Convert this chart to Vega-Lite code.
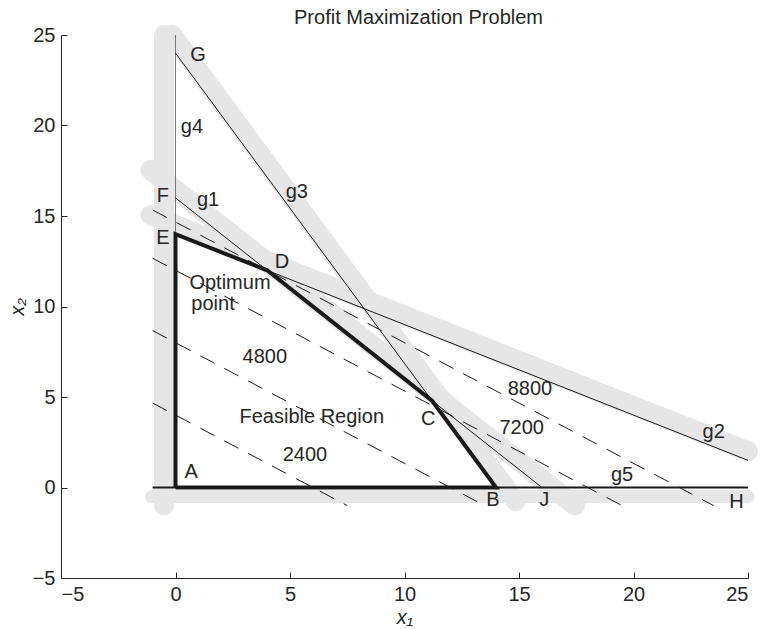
{
  "$schema": "https://vega.github.io/schema/vega-lite/v6.json",
  "width": 687,
  "height": 543,
  "autosize": {"type": "none"},
  "padding": {"left": 61, "top": 35, "right": 16, "bottom": 51},
  "background": "white",
  "config": {
    "view": {"stroke": null},
    "font": "Liberation Sans",
    "axis": {
      "grid": false,
      "domainColor": "#262626",
      "tickColor": "#262626",
      "labelColor": "#262626",
      "titleColor": "#262626",
      "domainWidth": 1,
      "tickWidth": 1,
      "tickSize": -6,
      "labelPadding": 12,
      "labelFont": "Liberation Sans",
      "labelFontSize": 20,
      "titleFont": "Liberation Sans",
      "titleFontSize": 20,
      "titleFontWeight": "normal",
      "titleFontStyle": "italic"
    }
  },
  "title": {
    "text": "Profit Maximization Problem",
    "font": "Liberation Sans",
    "fontSize": 20,
    "fontWeight": "normal",
    "color": "#262626",
    "anchor": "middle",
    "frame": "group",
    "baseline": "alphabetic",
    "offset": 12,
    "dx": 14,
    "dy": 61
  },
  "datasets": {
    "bands": [
      {"series": "g4", "i": 0, "x": -0.5, "y": -1},
      {"series": "g4", "i": 1, "x": -0.5, "y": 25},
      {"series": "g5", "i": 0, "x": -1.05, "y": -0.5},
      {"series": "g5", "i": 1, "x": 25, "y": -0.5},
      {"series": "g1", "i": 0, "x": -1.1, "y": 17.55},
      {"series": "g1", "i": 1, "x": 17.45, "y": -1},
      {"series": "g2", "i": 0, "x": -1.1, "y": 15.05},
      {"series": "g2", "i": 1, "x": 25, "y": 2.0},
      {"series": "g3", "i": 0, "x": -0.15, "y": 25},
      {"series": "g3", "i": 1, "x": 14.85, "y": -0.75}
    ],
    "lines": [
      {"series": "g1", "i": 0, "x": 0, "y": 16},
      {"series": "g1", "i": 1, "x": 16, "y": 0},
      {"series": "g2", "i": 0, "x": 0, "y": 14},
      {"series": "g2", "i": 1, "x": 25, "y": 1.5},
      {"series": "g3", "i": 0, "x": 0, "y": 24},
      {"series": "g3", "i": 1, "x": 14, "y": 0},
      {"series": "g4", "i": 0, "x": 0, "y": 0},
      {"series": "g4", "i": 1, "x": 0, "y": 25},
      {"series": "g5", "i": 0, "x": -1, "y": 0},
      {"series": "g5", "i": 1, "x": 25, "y": 0}
    ],
    "iso": [
      {"z": 2400, "i": 0, "x": -1, "y": 4.667},
      {"z": 2400, "i": 1, "x": 7.5, "y": -1},
      {"z": 4800, "i": 0, "x": -1, "y": 8.667},
      {"z": 4800, "i": 1, "x": 13.5, "y": -1},
      {"z": 7200, "i": 0, "x": -1, "y": 12.667},
      {"z": 7200, "i": 1, "x": 19.5, "y": -1},
      {"z": 8800, "i": 0, "x": -1, "y": 15.333},
      {"z": 8800, "i": 1, "x": 23.5, "y": -1}
    ],
    "region": [
      {"i": 0, "x": 0, "y": 0},
      {"i": 1, "x": 14, "y": 0},
      {"i": 2, "x": 11.2, "y": 4.8},
      {"i": 3, "x": 4, "y": 12},
      {"i": 4, "x": 0, "y": 14},
      {"i": 5, "x": 0, "y": 0}
    ],
    "labels": [
      {"label": "G", "x": 0.98, "y": 23.9},
      {"label": "g4", "x": 0.72, "y": 19.9},
      {"label": "F", "x": -0.55, "y": 16.1},
      {"label": "g1", "x": 1.42, "y": 15.9},
      {"label": "g3", "x": 5.3, "y": 16.3},
      {"label": "E", "x": -0.55, "y": 13.8},
      {"label": "D", "x": 4.65, "y": 12.46},
      {"label": "Optimum", "x": 2.38, "y": 11.3},
      {"label": "point", "x": 1.64, "y": 10.13},
      {"label": "8800", "x": 15.48, "y": 5.44},
      {"label": "7200", "x": 15.12, "y": 3.29},
      {"label": "4800", "x": 3.9, "y": 7.2},
      {"label": "Feasible Region", "x": 5.95, "y": 3.92},
      {"label": "C", "x": 11.04, "y": 3.77},
      {"label": "2400", "x": 5.65, "y": 1.8},
      {"label": "A", "x": 0.68, "y": 0.86},
      {"label": "B", "x": 13.86, "y": -0.69},
      {"label": "J", "x": 16.1, "y": -0.69},
      {"label": "g5", "x": 19.5, "y": 0.69},
      {"label": "H", "x": 24.5, "y": -0.8},
      {"label": "g2", "x": 23.5, "y": 3.07}
    ]
  },
  "encoding": {
    "x": {
      "field": "x",
      "type": "quantitative",
      "scale": {"domain": [-5, 25], "nice": false, "zero": false},
      "axis": {"values": [-5, 0, 5, 10, 15, 20, 25], "title": "x₁", "titleY": 45, "titleBaseline": "alphabetic"}
    },
    "y": {
      "field": "y",
      "type": "quantitative",
      "scale": {"domain": [-5, 25], "nice": false, "zero": false},
      "axis": {"values": [-5, 0, 5, 10, 15, 20, 25], "title": "x₂", "titleX": -38, "titleBaseline": "alphabetic"}
    }
  },
  "layer": [
    {
      "data": {"name": "bands"},
      "transform": [{"filter": "datum.series != 'g5'"}],
      "mark": {"type": "line", "color": "#e6e6e6", "strokeWidth": 20, "strokeCap": "round", "clip": false},
      "encoding": {"detail": {"field": "series"}, "order": {"field": "i"}}
    },
    {
      "data": {"name": "bands"},
      "transform": [{"filter": "datum.series == 'g5'"}],
      "mark": {"type": "line", "color": "#e6e6e6", "strokeWidth": 13, "strokeCap": "round", "clip": false},
      "encoding": {"detail": {"field": "series"}, "order": {"field": "i"}}
    },
    {
      "data": {"name": "iso"},
      "mark": {"type": "line", "color": "#1a1a1a", "strokeWidth": 1, "strokeDash": [16, 11]},
      "encoding": {"detail": {"field": "z"}, "order": {"field": "i"}}
    },
    {
      "data": {"name": "lines"},
      "transform": [{"filter": "datum.series == 'g4'"}],
      "mark": {"type": "line", "color": "#777777", "strokeWidth": 1},
      "encoding": {"detail": {"field": "series"}, "order": {"field": "i"}}
    },
    {
      "data": {"name": "lines"},
      "transform": [{"filter": "datum.series == 'g1' || datum.series == 'g2' || datum.series == 'g3'"}],
      "mark": {"type": "line", "color": "#1a1a1a", "strokeWidth": 1},
      "encoding": {"detail": {"field": "series"}, "order": {"field": "i"}}
    },
    {
      "data": {"name": "lines"},
      "transform": [{"filter": "datum.series == 'g5'"}],
      "mark": {"type": "line", "color": "#1a1a1a", "strokeWidth": 2},
      "encoding": {"detail": {"field": "series"}, "order": {"field": "i"}}
    },
    {
      "data": {"name": "region"},
      "mark": {"type": "line", "color": "#1a1a1a", "strokeWidth": 4, "strokeJoin": "miter"},
      "encoding": {"order": {"field": "i"}}
    },
    {
      "data": {"name": "labels"},
      "mark": {"type": "text", "font": "Liberation Sans", "fontSize": 20, "color": "#262626", "align": "center", "baseline": "middle"},
      "encoding": {"text": {"field": "label"}}
    }
  ]
}
